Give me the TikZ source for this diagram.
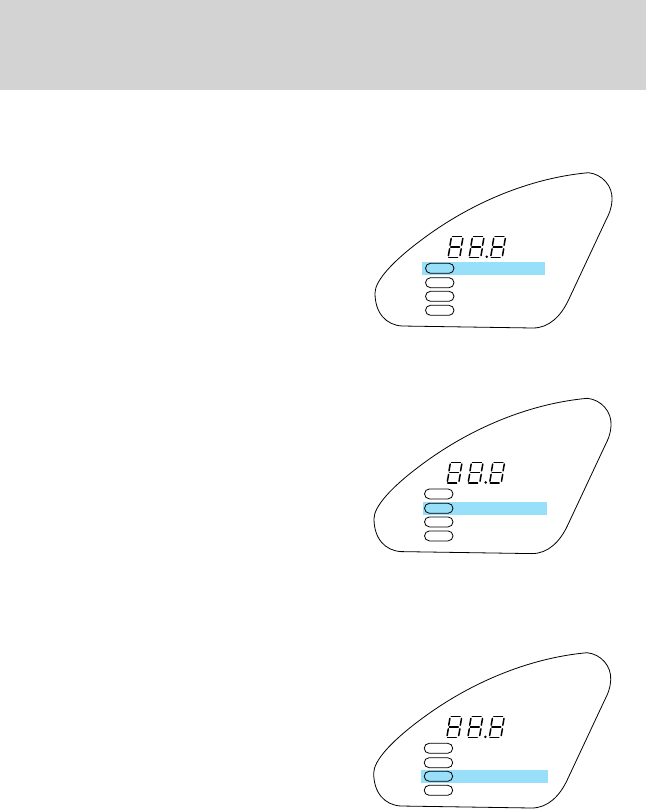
\documentclass[tikz,border=0pt]{standalone}
\usepackage{xcolor}
\usepackage{tikz}
\definecolor{headergray}{RGB}{211,211,211}
\definecolor{bandblue}{RGB}{152,223,250}
\tikzset{
  pillbox/.style={draw=black,line width=0.8pt,rounded corners=5pt},
  outline/.style={draw=black,line width=0.8pt},
  segment/.style={draw=black,line width=1.5pt,line cap=round}
}
\newcommand{\digitglyph}[1]{%
  \begin{scope}[shift={(#1,0)}]
    % top, middle, bottom
    \draw[segment] (5.6,236.7) -- (14.4,236.7);
    \draw[segment] (3.7,247) -- (12.5,247);
    \draw[segment] (1.8,257.3) -- (10.6,257.3);
    % left side
    \draw[segment] (4.2,238.4) -- (3,245.2);
    \draw[segment] (2.6,248.8) -- (1.4,255.6);
    % right side
    \draw[segment] (15.8,238.4) -- (14.6,245.2);
    \draw[segment] (14.2,248.8) -- (13,255.6);
  \end{scope}
}
\begin{document}
\begin{tikzpicture}[x=1pt,y=-1pt]
\useasboundingbox (0,0) rectangle (646,809);

% Header
\fill[headergray] (0,0) rectangle (646,90);

% Panels
\foreach \dx/\dy/\hl/\bl/\br in {0/0/0/422/545,-1/225.6/1/423/547,-1.3/480/2/421/548} {
  \begin{scope}[shift={(\dx,\dy)}]
    \fill[bandblue,shift={(-\dx,0)}] (\bl,{262+\hl*14}) rectangle (\br,{275+\hl*14});
    \draw[outline] (588.3,172.7) .. controls (602,174) and (613,186) .. (612,200)
      .. controls (611.5,209) and (609,214) .. (606,220)
      -- (568.5,300)
      .. controls (561,316) and (549,328) .. (533,328)
      -- (402,326)
      .. controls (386,325) and (375,313) .. (375,293)
      .. controls (375,281) and (392,262) .. (420,241)
      .. controls (470,203) and (530,178) .. (588.3,172.7) -- cycle;
    \foreach \i/\py in {0/268.3,1/282.7,2/296.3,3/310.3} {
      \draw[pillbox] (425.5,{\py-5}) rectangle (454,{\py+5});
    }
    \digitglyph{447}
    \digitglyph{468}
    \digitglyph{489.5}
    \fill (486.7,256.8) circle (1.4);
  \end{scope}
}
\end{tikzpicture}
\end{document}
